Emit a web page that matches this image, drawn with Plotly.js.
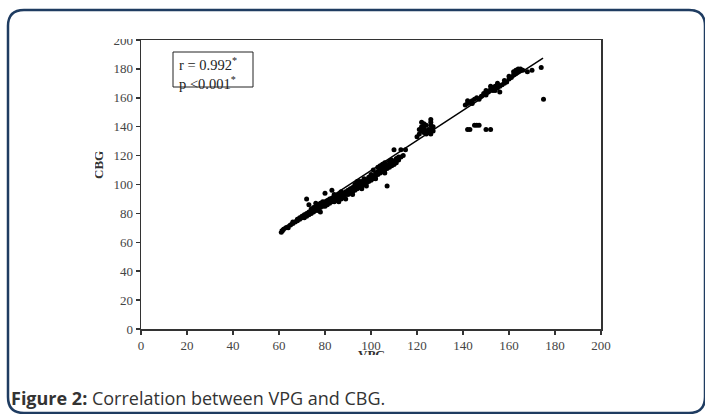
<!DOCTYPE html>
<html>
<head>
<meta charset="utf-8">
<script src="https://cdn.plot.ly/plotly-3.0.1.min.js"></script>
<style>html,body{margin:0;padding:0;background:#fff;}#chart{width:705px;height:414px;}</style>
</head>
<body>
<div id="chart"></div>
<script>
// VPG (x) values
const vpg = [
  61,61.5,62,63,64,65,66,66,67,68,68,69,69,70,70,
  71,71,72,72,72,73,73,73,74,74,74,75,75,75,76,76,76,77,77,77,78,78,78,79,79,79,80,80,80,80,
  81,81,81,82,82,82,83,83,83,84,84,84,85,85,85,86,86,86,87,87,87,87,88,88,88,89,89,89,90,90,90,
  91,91,91,92,92,92,93,93,93,94,94,94,95,95,95,96,96,96,97,97,97,98,98,99,99,99,100,100,100,
  101,101,101,102,102,103,103,103,104,104,104,105,105,105,106,106,106,107,107,107,108,108,108,109,109,109,110,110,111,111,112,112,113,114,110,113,115,110,
  120,121,121,122,122,122,123,123,123,124,124,124,125,125,126,126,126,126,126,127,127,
  141,142,142,143,144,144,145,146,147,148,149,150,150,151,152,152,153,153,154,154,155,155,156,156,157,158,158,159,160,160,161,162,162,163,163,164,164,165,165,166,168,170,174,175,
  142,143,145,146,147,150,152,
  76,78,84,86,92,94,98,102,88,96,104,106
];
// CBG (y) values
const cbg = [
  67,68,69,70,70,72,73,74,74,75,76,76,77,77,78,
  77,79,78,80,90,79,81,86,80,82,83,81,83,84,82,84,85,82,84,86,84,85,87,85,86,88,85,87,88,94,
  86,88,89,87,89,90,88,90,96,88,90,91,89,91,92,90,92,93,90,91,93,95,91,93,94,90,93,95,93,94,96,
  94,96,97,95,97,98,96,98,100,97,99,101,98,100,102,99,101,102,100,102,104,101,103,102,104,105,103,105,107,
  104,106,110,106,108,107,109,112,108,110,113,109,111,114,110,112,115,99,111,113,112,114,116,113,115,117,114,116,115,118,117,119,119,120,124,124,124,114,
  133,135,138,137,140,143,136,139,142,135,137,141,136,138,135,138,141,143,145,137,140,
  155,156,158,157,158,156,159,160,159,161,163,162,165,164,166,168,165,167,168,165,167,170,164,168,169,170,172,171,173,175,174,176,178,177,179,178,180,179,180,179,178,179,181,159,
  138,138,141,141,141,138,138,
  87,81,93,88,93,102,99,104,94,97,109,108
];
// Regression line end points
const fitX = [60.4, 174.8];
const fitY = [68.5, 187.5];
const xTicks = [0,20,40,60,80,100,120,140,160,180,200];
const yTicks = [0,20,40,60,80,100,120,140,160,180,200];
const statLines = ["r = 0.992<sup>*</sup>", "p &lt;0.001<sup>*</sup>"];
const caption = "<b>Figure 2:</b> Correlation between VPG and CBG.";

const W = 705, H = 414, L = 141, R = 601, T = 40, B = 329;
const PX = p => (p - L) / (R - L);
const PY = p => (B - p) / (B - T);

const frame = `M ${PX(8)},${PY(397)} L ${PX(8)},${PY(26)} Q ${PX(8)},${PY(10)} ${PX(24)},${PY(10)} ` +
  `L ${PX(689)},${PY(10)} Q ${PX(705)},${PY(10)} ${PX(705)},${PY(26)} L ${PX(705)},${PY(397)} ` +
  `Q ${PX(705)},${PY(413)} ${PX(689)},${PY(413)} L ${PX(24)},${PY(413)} Q ${PX(8)},${PY(413)} ${PX(8)},${PY(397)} Z`;

// white patch (drawn as an annotation so it sits above tick labels and titles)
function cover(x0, y0, w, h) {
  return {xref:'paper', yref:'paper', x:PX(x0), y:PY(y0), xanchor:'left', yanchor:'top',
    text:'MMMM', showarrow:false, width:w, height:h, bgcolor:'#ffffff', borderpad:0, borderwidth:0,
    font:{size:6, color:'#ffffff'}};
}

const serif = 'Liberation Serif, Times New Roman, serif';
const axisCommon = {
  showgrid:false, zeroline:false, showline:true, linecolor:'#333', linewidth:1.5, mirror:true,
  ticks:'outside', ticklen:4, tickwidth:1.5, tickcolor:'#333',
  tickfont:{family:serif, size:13, color:'#444'}, range:[0,200]
};

const data = [
  {x:vpg, y:cbg, type:'scatter', mode:'markers', marker:{color:'#000', size:5}, hoverinfo:'skip', showlegend:false},
  {x:fitX, y:fitY, type:'scatter', mode:'lines', line:{color:'#000', width:1.5}, hoverinfo:'skip', showlegend:false}
];

const layout = {
  width:W, height:H, autosize:false,
  margin:{l:L, r:W-R, t:T, b:H-B, pad:0},
  paper_bgcolor:'#fff', plot_bgcolor:'#fff',
  showlegend:false,
  xaxis:Object.assign({}, axisCommon, {tickvals:xTicks, ticktext:xTicks.map(String)}),
  yaxis:Object.assign({}, axisCommon, {tickvals:yTicks, ticktext:yTicks.map(String)}),
  shapes:[
    {type:'path', xref:'paper', yref:'paper', path:frame, line:{color:'#1f3c61', width:2.5}, fillcolor:'rgba(0,0,0,0)', layer:'above'},
    {type:'rect', xref:'paper', yref:'paper', x0:PX(173), x1:PX(253), y0:PY(87), y1:PY(52), line:{color:'#222', width:1}, fillcolor:'#fff', layer:'above'}
  ],
  annotations:[
    {xref:'paper', yref:'paper', x:PX(177), y:PY(53), xanchor:'left', yanchor:'top', align:'left', showarrow:false,
     text:statLines.join('<br>'), font:{family:serif, size:14.5, color:'#222'}},
    {xref:'paper', yref:'paper', x:PX(371), y:PY(345), xanchor:'center', yanchor:'top', showarrow:false,
     text:'<b>VPG</b>', font:{family:serif, size:13, color:'#333'}},
    {xref:'paper', yref:'paper', x:PX(98), y:PY(165), xanchor:'center', yanchor:'middle', showarrow:false, textangle:-90,
     text:'<b>CBG</b>', font:{family:serif, size:13, color:'#333'}},
    cover(100, 20, 36, 19),
    cover(330, 355, 90, 22),
    cover(70, 130, 25, 70),
    {xref:'paper', yref:'paper', x:PX(9), y:PY(398), xanchor:'left', yanchor:'middle', showarrow:false, align:'left',
     text:caption, font:{family:'Open Sans, sans-serif', size:18, color:'#333'}}
  ]
};

Plotly.newPlot('chart', data, layout, {staticPlot:true, displayModeBar:false});
</script>
</body>
</html>
